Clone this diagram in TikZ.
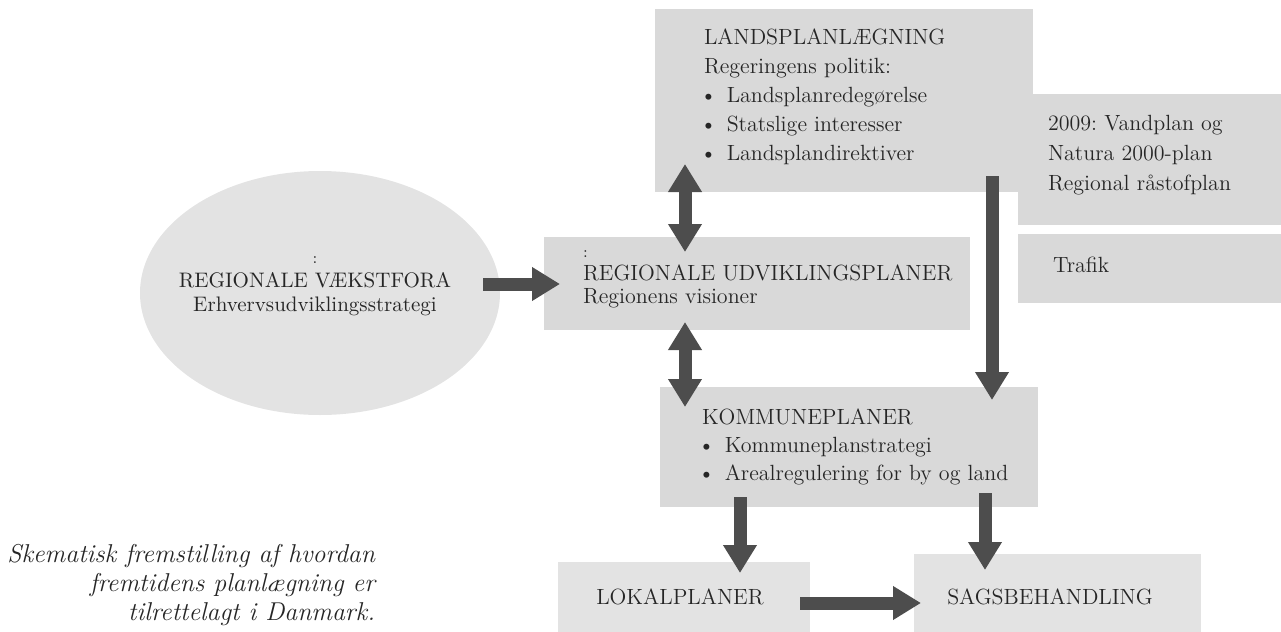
\documentclass[tikz,border=0pt]{standalone}
\usepackage{fontspec}
\usetikzlibrary{arrows.meta,shapes.geometric}
\definecolor{boxgray}{HTML}{D9D9D9}
\definecolor{softgray}{HTML}{E3E3E3}
\definecolor{arrowgray}{HTML}{4D4D4D}
\definecolor{txtgray}{HTML}{262626}
\newcommand{\mylines}[2]{\begin{tabular}[t]{@{}#1@{}}#2\end{tabular}}
\newcommand{\mybul}{\hspace{-2pt}\textbullet\hspace{5pt}}
\frenchspacing
\begin{document}
\begin{tikzpicture}[x=0.5pt,y=-0.5pt,
  box/.style={fill=boxgray, draw=none, inner sep=0pt, outer sep=0pt, anchor=north west},
  softbox/.style={box, fill=softgray},
  txt/.style={inner sep=0pt, outer sep=0pt, text=txtgray, font=\fontsize{11}{14.6}\selectfont},
  blk/.style={draw=arrowgray, line width=6.5pt, -{Triangle[width=16pt,length=14pt]}},
  dbl/.style={draw=arrowgray, line width=6.5pt, {Triangle[width=16pt,length=14pt]}-{Triangle[width=16pt,length=14pt]}}
]
\useasboundingbox (0,0) rectangle (1281,632);

% boxes
\node[box, minimum width=189pt, minimum height=91.5pt] (top) at (655,9) {};
\node[box, minimum width=131.5pt, minimum height=65.5pt] (wat) at (1018,94) {};
\node[box, minimum width=131.5pt, minimum height=34.5pt] (traf) at (1018,234) {};
\node[box, minimum width=213pt, minimum height=46.5pt] (mid) at (544,237) {};
\node[box, minimum width=189pt, minimum height=60pt] (kom) at (660,387) {};
\node[softbox, minimum width=126pt, minimum height=35pt] (lok) at (558,562) {};
\node[softbox, minimum width=143.5pt, minimum height=39pt] (sag) at (914,554) {};
\node[ellipse, fill=softgray, draw=none, inner sep=0pt, outer sep=0pt,
      minimum width=180pt, minimum height=122pt] (ell) at (320,293) {};

% texts
\node[txt, anchor=base west] (topT) at (704,44) {\mylines{l}{LANDSPLANLÆGNING\\
  Regeringens politik:\\
  \mybul Landsplanredegørelse\\
  \mybul Statslige interesser\\
  \mybul Landsplandirektiver}};
\node[txt, anchor=base west, font=\fontsize{11}{15}\selectfont] (watT) at (1048,130)
  {\mylines{l}{2009: Vandplan og\\ Natura 2000-plan\\ Regional råstofplan}};
\node[txt, anchor=base west] (trafT) at (1053,272) {Trafik};
\node[txt, anchor=base west, font=\fontsize{11}{11.5}\selectfont] (midT) at (583,257)
  {\mylines{l}{{\fontsize{8}{9}\selectfont :}\\ REGIONALE UDVIKLINGSPLANER\\ Regionens visioner}};
\node[txt, anchor=base, font=\fontsize{10.5}{12}\selectfont] (ellT) at (315,263)
  {\mylines{c}{{\fontsize{8}{9}\selectfont :}\\ REGIONALE VÆKSTFORA\\ Erhvervsudviklingsstrategi}};
\node[txt, anchor=base west, font=\fontsize{11}{14}\selectfont] (komT) at (702,424)
  {\mylines{l}{KOMMUNEPLANER\\
  \mybul Kommuneplanstrategi\\
  \mybul Arealregulering for by og land}};
\node[txt, anchor=base] (lokT) at (680,604) {LOKALPLANER};
\node[txt, anchor=base] (sagT) at (1050,604) {SAGSBEHANDLING};
\node[txt, anchor=base east, font=\fontsize{12.9}{14.5}\selectfont\itshape] (cap) at (375,562)
  {\mylines{r}{Skematisk fremstilling af hvordan\\ fremtidens planlægning er\\ tilrettelagt i Danmark.}};

% arrow guide coordinates
\coordinate (yA) at (0,284);
\coordinate (xA) at (685,0);
\coordinate (xB) at (992,0);
\coordinate (xC) at (740,0);
\coordinate (xD) at (985,0);
\coordinate (yB) at (0,603);

% arrows
\draw[blk, shorten <=-8.5pt, shorten >=-8pt] (ell.east |- yA) -- (mid.west |- yA);
\draw[dbl, shorten <=-14pt, shorten >=-7.5pt] (top.south -| xA) -- (mid.north -| xA);
\draw[dbl, shorten <=-4pt, shorten >=-10pt] (mid.south -| xA) -- (kom.north -| xA);
\draw[blk, shorten <=-8pt, shorten >=-6.5pt] (top.south -| xB) -- (kom.north -| xB);
\draw[blk, shorten <=-5pt, shorten >=-5.5pt] (kom.south -| xC) -- (lok.north -| xC);
\draw[blk, shorten <=-7pt, shorten >=-8pt] (kom.south -| xD) -- (sag.north -| xD);
\draw[blk, shorten <=-5pt, shorten >=-3.5pt] (lok.east |- yB) -- (sag.west |- yB);
\end{tikzpicture}
\end{document}
